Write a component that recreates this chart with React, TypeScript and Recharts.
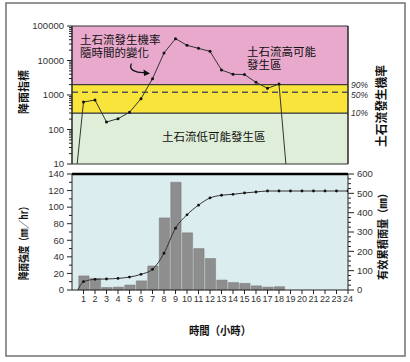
import React from 'react';
import { ComposedChart, Line, Bar, XAxis, YAxis, ReferenceArea, ReferenceLine } from 'recharts';

// ---- data ----
const HOURS = [1, 2, 3, 4, 5, 6, 7, 8, 9, 10, 11, 12, 13, 14, 15, 16, 17, 18, 19, 20, 21, 22, 23, 24];
const RAIN_INTENSITY = [17, 14, 3, 3.5, 6, 11, 29, 87, 130, 69, 50, 38, 12, 9, 8, 5, 3.5, 4, 0, 0, 0, 0, 0, 0];
const CUMULATIVE = [43, 55, 57, 60, 67, 81, 107, 190, 320, 389, 439, 476, 490, 495, 502, 507, 512, 512, 512, 512, 512, 512, 512, 512];
const CUM_START_HOUR = 0.5;
const CUM_START_VALUE = 0;

const INDEX_HOURS = [0.45, 1, 2, 3, 4, 5, 6, 7, 8, 9, 10, 11, 12, 13, 14, 15, 16, 17, 18, 18.6];
const RAIN_INDEX = [10, 627, 716, 165, 206, 315, 783, 2970, 16500, 43000, 27500, 22500, 18400, 5300, 4000, 3900, 2330, 1560, 2080, 10];

const LOG_TICKS = [10, 100, 1000, 10000, 100000];
const LOG_MINOR = [20, 30, 40, 50, 60, 70, 80, 90, 200, 300, 400, 500, 600, 700, 800, 900, 2000, 3000, 4000, 5000, 6000, 7000, 8000, 9000, 20000, 30000, 40000, 50000, 60000, 70000, 80000, 90000];
const PROB_LABEL_AT = [300, 1000, 2000];
const PROB_LABELS = ['10%', '50%', '90%'];
const LOW_LIMIT = 300;
const HIGH_LIMIT = 2000;
const MID_LINE = 1200;

const INTENSITY_TICKS = [0, 20, 40, 60, 80, 100, 120, 140];
const INTENSITY_MINOR = [10, 30, 50, 70, 90, 110, 130];
const CUM_TICKS = [0, 100, 200, 300, 400, 500, 600];
const CUM_MINOR = [25, 50, 75, 125, 150, 175, 225, 250, 275, 325, 350, 375, 425, 450, 475, 525, 550, 575];

const indexData = INDEX_HOURS.map((h, i) => ({ hour: h, index: RAIN_INDEX[i] }));
const barData = HOURS.map((h, i) => ({ hour: h, intensity: RAIN_INTENSITY[i] }));
const cumData = [{ hour: CUM_START_HOUR, cum: CUM_START_VALUE }].concat(
  HOURS.map((h, i) => ({ hour: h, cum: CUMULATIVE[i] }))
);

const NUM_FONT = '"Liberation Sans", Arial, sans-serif';
const CJK_FONT = '"Noto Sans CJK TC", "Noto Sans CJK SC", sans-serif';

function AxisTick(props: any) {
  const { x, y, payload, side, majors, size, gap, minorSize, fmt } = props;
  const v = payload.value;
  const isMajor = majors.includes(v);
  const dir = side === 'left' ? -1 : 1;
  const ax = x - dir * (size + gap);
  const len = isMajor ? size : minorSize;
  return (
    <g>
      <line x1={ax} x2={ax + dir * len} y1={y} y2={y} stroke="#222" strokeWidth={1} />
      {isMajor && (
        <text x={x} y={y} dy="0.35em" textAnchor={side === 'left' ? 'end' : 'start'} fontSize={9.5} fill="#333" fontFamily={NUM_FONT}>
          {fmt ? fmt(v) : v}
        </text>
      )}
    </g>
  );
}

const IndexDot = (p: any) => {
  if (p.payload.index <= 10) return <g key={`d${p.index}`} />;
  return <circle key={`d${p.index}`} cx={p.cx} cy={p.cy} r={1.5} fill="#111" />;
};
const CumDot = (p: any) => {
  if (p.payload.hour < 1) return <g key={`c${p.index}`} />;
  return <circle key={`c${p.index}`} cx={p.cx} cy={p.cy} r={1.4} fill="#111" />;
};

export default function App() {
  return (
    <div style={{ position: 'absolute', left: 0, top: 0, width: 410, height: 362, background: '#fff', overflow: 'hidden' }}>
      {/* top chart: rainfall index, log scale */}
      <div style={{ position: 'absolute', left: 0, top: 0 }}>
        <ComposedChart width={410} height={170} data={indexData} margin={{ top: 26, right: 32, left: 32, bottom: 6 }}>
          <XAxis type="number" dataKey="hour" domain={[0, 24]} hide allowDataOverflow />
          <YAxis
            yAxisId="l"
            scale="log"
            domain={[10, 100000]}
            allowDataOverflow
            ticks={[...LOG_TICKS, ...LOG_MINOR]}
            interval={0}
            width={40}
            tickSize={5}
            tickMargin={3}
            axisLine={{ stroke: '#222' }}
            tickLine={{ stroke: 'transparent' }}
            tick={(p: any) => <AxisTick {...p} side="left" majors={LOG_TICKS} size={5} gap={3} minorSize={3} />}
          />
          <YAxis
            yAxisId="r"
            orientation="right"
            scale="log"
            domain={[10, 100000]}
            allowDataOverflow
            ticks={PROB_LABEL_AT}
            interval={0}
            width={30}
            tickSize={0}
            tickMargin={3}
            axisLine={{ stroke: '#222' }}
            tickLine={false}
            tick={{ fontSize: 8.5, fill: '#333', fontStyle: 'italic', fontFamily: NUM_FONT }}
            tickFormatter={(v: number) => PROB_LABELS[PROB_LABEL_AT.indexOf(v)]}
          />
          <ReferenceArea yAxisId="l" y1={10} y2={LOW_LIMIT} fill="#dfeed9" fillOpacity={1} stroke="#333" />
          <ReferenceArea yAxisId="l" y1={LOW_LIMIT} y2={HIGH_LIMIT} fill="#f8e43a" fillOpacity={1} stroke="#333" />
          <ReferenceArea yAxisId="l" y1={HIGH_LIMIT} y2={100000} fill="#e9a9cd" fillOpacity={1} stroke="#333" />
          <ReferenceLine yAxisId="l" y={MID_LINE} stroke="#555" strokeDasharray="6 4" strokeWidth={1.5} />
          <Line
            yAxisId="l"
            type="linear"
            dataKey="index"
            stroke="#333"
            strokeWidth={1}
            dot={IndexDot}
            activeDot={false}
            isAnimationActive={false}
          />
        </ComposedChart>
      </div>

      {/* bottom chart: rainfall intensity and cumulative rainfall */}
      <div style={{ position: 'absolute', left: 0, top: 150 }}>
        <ComposedChart width={410} height={180} data={barData} margin={{ top: 24, right: 22, left: 32, bottom: 20 }} barCategoryGap={0} barGap={0}>
          <XAxis
            xAxisId="b"
            type="number"
            dataKey="hour"
            domain={[0, 24]}
            ticks={HOURS}
            interval={0}
            height={20}
            tickSize={4}
            tickMargin={2}
            allowDataOverflow
            axisLine={{ stroke: '#222' }}
            tickLine={{ stroke: '#222' }}
            tick={{ fontSize: 9, fill: '#333', fontFamily: NUM_FONT }}
          />
          <XAxis xAxisId="c" type="number" dataKey="hour" domain={[0, 24]} hide allowDataOverflow />
          <YAxis
            yAxisId="l"
            domain={[0, 140]}
            ticks={[...INTENSITY_TICKS, ...INTENSITY_MINOR]}
            interval={0}
            width={40}
            tickSize={5}
            tickMargin={3}
            axisLine={{ stroke: '#222' }}
            tickLine={{ stroke: 'transparent' }}
            tick={(p: any) => <AxisTick {...p} side="left" majors={INTENSITY_TICKS} size={5} gap={3} minorSize={3} />}
          />
          <YAxis
            yAxisId="r"
            orientation="right"
            domain={[0, 600]}
            ticks={[...CUM_TICKS, ...CUM_MINOR]}
            interval={0}
            width={40}
            tickSize={6}
            tickMargin={3}
            axisLine={{ stroke: '#222' }}
            tickLine={{ stroke: 'transparent' }}
            tick={(p: any) => <AxisTick {...p} side="right" majors={CUM_TICKS} size={6} gap={3} minorSize={3} />}
          />
          <ReferenceArea xAxisId="b" yAxisId="l" x1={0} x2={24} y1={0} y2={140} fill="#dcedf0" fillOpacity={1} />
          <ReferenceLine xAxisId="b" yAxisId="l" y={140} stroke="#000" strokeWidth={2.5} />
          <Bar xAxisId="b" yAxisId="l" dataKey="intensity" barSize={11.5} fill="#8e8e8e" stroke="#777" strokeWidth={0.5} isAnimationActive={false} />
          <Line
            xAxisId="c"
            yAxisId="r"
            data={cumData}
            type="monotone"
            dataKey="cum"
            stroke="#333"
            strokeWidth={1}
            dot={CumDot}
            activeDot={false}
            isAnimationActive={false}
          />
        </ComposedChart>
      </div>

      {/* titles, annotations and frame */}
      <svg width={410} height={362} style={{ position: 'absolute', left: 0, top: 0, pointerEvents: 'none' }}>
        <rect x={6} y={3} width={399} height={353} fill="none" stroke="#7a7a7a" strokeWidth={1.6} />
        <g fontFamily={CJK_FONT} fill="#111">
          <text x={80} y={44} fontSize={11.5}>土石流發生機率</text>
          <text x={80} y={57} fontSize={11.5}>隨時間的變化</text>
          <text x={247} y={56} fontSize={11.5}>土石流高可能</text>
          <text x={247} y={69} fontSize={11.5}>發生區</text>
          <text x={162} y={141} fontSize={11.5}>土石流低可能發生區</text>
          <text transform="translate(28,92) rotate(-90)" textAnchor="middle" fontSize={11} fontWeight="bold">降雨指標</text>
          <text transform="translate(386,106) rotate(-90)" textAnchor="middle" fontSize={12} fontWeight="bold" textLength={82} lengthAdjust="spacingAndGlyphs">土石流發生機率</text>
          <text transform="translate(28,241) rotate(-90)" textAnchor="middle" fontSize={11} fontWeight="bold" textLength={78} lengthAdjust="spacingAndGlyphs">降雨強度（㎜／hr）</text>
          <text transform="translate(387,234) rotate(-90)" textAnchor="middle" fontSize={11} fontWeight="bold" textLength={92} lengthAdjust="spacingAndGlyphs">有效累積雨量（㎜）</text>
          <text x={220} y={335} textAnchor="middle" fontSize={11.5} fontWeight="bold" textLength={62} lengthAdjust="spacingAndGlyphs">時間（小時）</text>
        </g>
        <path d="M131.5,63.5 C128,70 136,73 145,72.5" fill="none" stroke="#111" strokeWidth={1.2} />
        <path d="M150,73.5 L143.5,69.5 L144,76 Z" fill="#111" />
      </svg>
    </div>
  );
}
